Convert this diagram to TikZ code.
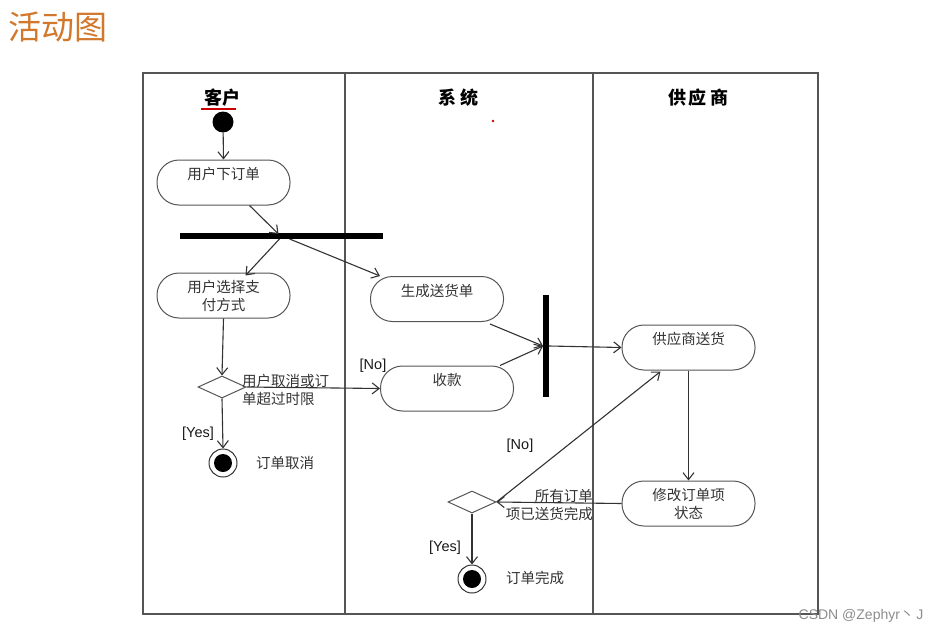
\documentclass[tikz,border=0pt]{standalone}
\usepackage{fontspec}
\setmainfont{Liberation Sans}
\newfontfamily\cjk{Noto Sans CJK SC}
\usetikzlibrary{arrows.meta,shapes.geometric}
\definecolor{ln}{HTML}{555555}
\definecolor{ttl}{HTML}{D2782D}
\begin{document}
\begin{tikzpicture}[x=1pt,y=-1pt,
  lane/.style={draw=ln,line width=1.3pt},
  act/.style={draw=ln,line width=1pt,rectangle,rounded corners=22pt,minimum width=133pt,minimum height=45pt,inner sep=0pt,align=center,font=\cjk\fontsize{14.5}{18}\selectfont,text=black!80},
  act1/.style={act,text height=10pt,text depth=16pt},
  arr/.style={draw=black!80,line width=1.1pt,-{Straight Barb[length=7pt,width=11pt]}},
  barh/.style={fill=black,inner sep=0pt,minimum width=203pt,minimum height=5.5pt},
  barv/.style={fill=black,inner sep=0pt,minimum width=5.5pt,minimum height=102pt},
  dec/.style={draw=ln,line width=1pt,diamond,inner sep=0pt,minimum width=48pt,minimum height=22pt},
  startn/.style={circle,fill=black,inner sep=0pt,minimum size=21pt},
  endn/.style={circle,draw=black!80,line width=1pt,inner sep=0pt,minimum size=28pt,
    path picture={\fill[black] (path picture bounding box.center) circle (9pt);}},
  lbl/.style={font=\cjk\fontsize{14.5}{18}\selectfont,text=black!80,inner sep=0pt},
  grd/.style={font=\fontsize{14.5}{16}\selectfont,text=black!90,inner sep=0pt},
  hdr/.style={font=\cjk\bfseries\fontsize{18}{20}\selectfont,text=black,inner sep=0pt}]
\useasboundingbox (0,0) rectangle (942,634);
% title
\node[font=\cjk\fontsize{33}{35}\selectfont,text=ttl,inner sep=0pt] (title) at (58,27) {活动图};
% frame and lanes
\draw[lane] (143,73) rectangle (818,614);
\draw[lane] (345,73) -- (345,614);
\draw[lane] (593,73) -- (593,614);
\node[hdr] (h1) at (222,98) {客户};
\draw[red!80!black,line width=1.2pt] (201,109) -- (236,109);
\node[hdr] (h2) at (458,98) {系\hspace{4pt}统};
\node[hdr] (h3) at (698,98) {供\hspace{3pt}应\hspace{3pt}商};
\fill[red!80!black] (493,121) circle (1.3pt);
% nodes
\node[startn] (start) at (223,122) {};
\node[act1] (a1) at (223.5,182.5) {用户下订单};
\node[barh] (fork) at (281.5,236) {};
\node[act] (a2) at (223.5,295.5) {用户选择支\\付方式};
\node[act1] (a3) at (437,299) {生成送货单};
\node[act1] (a4) at (447,388.5) {收款};
\node[barv] (join) at (546,346) {};
\node[act1] (a5) at (688.5,347.5) {供应商送货};
\node[act] (a6) at (688.5,503.5) {修改订单项\\状态};
\node[dec] (d1) at (222,387) {};
\node[endn] (f1) at (223,463) {};
\node[lbl] (t1) at (285,463) {订单取消};
\node[dec] (d2) at (472,502) {};
\node[endn] (f2) at (472,579) {};
\node[lbl] (t2) at (535,578) {订单完成};
% labels
\node[lbl,anchor=west,align=left] (c1) at (242,390) {用户取消或订\\单超过时限};
\node[grd] (n1) at (373,366) {[No]};
\node[grd] (y1) at (198,434) {[Yes]};
\node[lbl,anchor=east,align=right] (c2) at (593,505) {所有订单\\项已送货完成};
\node[grd] (n2) at (520,446) {[No]};
\node[grd] (y2) at (445,548) {[Yes]};
% connectors
\draw[arr] (start) -- (a1.north);
\draw[arr] ([xshift=26]a1.south) -- ([xshift=-3,yshift=-1]fork.north);
\draw[arr] ([xshift=-2]fork.south) -- ([xshift=22,yshift=-3]a2.north);
\draw[arr] ([xshift=8]fork.south) -- ([xshift=-57]a3.north);
\draw[arr] (a2.south) -- (d1.north);
\draw[arr] (d1.east) -- (a4.west);
\draw[arr] (d1.south) -- (f1.north);
\draw[arr] ([xshift=53,yshift=-2]a3.south) -- (join.west);
\draw[arr] ([xshift=53]a4.north) -- (join.west);
\draw[arr] (join.east) -- (a5.west);
\draw[arr] (a5.south) -- (a6.north);
\draw[arr] (a6.west) -- (d2.east);
\draw[arr] (d2.east) -- ([xshift=-28,yshift=-1]a5.south);
\draw[arr] (d2.south) -- (f2.north);
% watermark
\node[font=\fontsize{14}{16}\selectfont,text=black!45,inner sep=0pt] (wm) at (861,616) {CSDN @Zephyr{\cjk 丶}\,J};
\end{tikzpicture}
\end{document}
